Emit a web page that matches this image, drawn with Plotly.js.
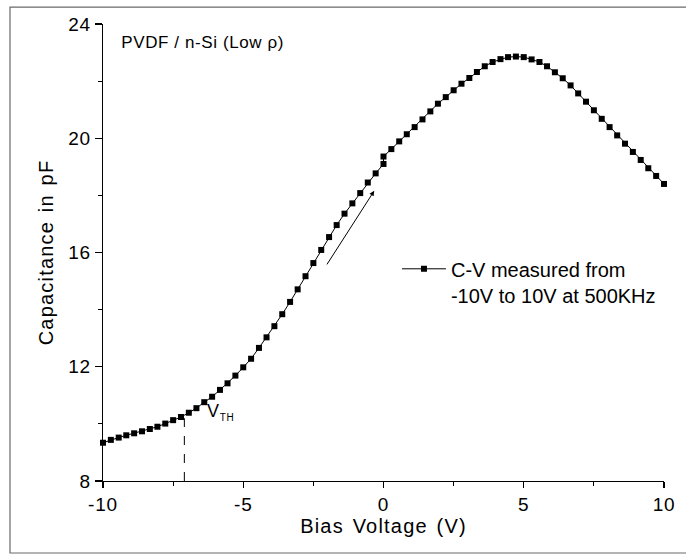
<!DOCTYPE html>
<html>
<head>
<meta charset="utf-8">
<script src="https://cdn.plot.ly/plotly-3.0.1.min.js"></script>
<style>
  html, body { margin: 0; padding: 0; background: #ffffff; }
  #chart { width: 686px; height: 556px; }
  #chart .xtitle, #chart .ytitle { letter-spacing: 1.2px; word-spacing: 2px; }
  #chart .xtick text, #chart .ytick text { letter-spacing: 0.8px; }
  #chart .annotation-text { letter-spacing: 0.6px; }
</style>
</head>
<body>
<div id="chart"></div>
<script>
// Bias voltage sweep (V): -10 V to 0 V, then 0 V to 10 V
const biasVoltage = [
  -10, -9.72, -9.44, -9.17, -8.89, -8.61, -8.33, -8.06, -7.78, -7.5,
  -7.22, -6.94, -6.67, -6.39, -6.11, -5.83, -5.56, -5.28, -5, -4.72,
  -4.44, -4.17, -3.89, -3.61, -3.33, -3.06, -2.78, -2.5, -2.22, -1.94,
  -1.67, -1.39, -1.11, -0.83, -0.56, -0.28, 0,
  0, 0.28, 0.56, 0.83, 1.11, 1.39, 1.67, 1.94, 2.22, 2.5,
  2.78, 3.06, 3.33, 3.61, 3.89, 4.17, 4.44, 4.72, 5, 5.28,
  5.56, 5.83, 6.11, 6.39, 6.67, 6.94, 7.22, 7.5, 7.78, 8.06,
  8.33, 8.61, 8.89, 9.17, 9.44, 9.72, 10
];
// Capacitance (pF)
const capacitance = [
  9.34, 9.44, 9.52, 9.60, 9.67, 9.74, 9.82, 9.90, 10.01, 10.13,
  10.24, 10.39, 10.55, 10.76, 10.95, 11.19, 11.42, 11.69, 11.98, 12.28,
  12.66, 13.03, 13.42, 13.84, 14.27, 14.71, 15.17, 15.63, 16.09, 16.54,
  16.96, 17.36, 17.72, 18.08, 18.45, 18.77, 19.10,
  19.36, 19.62, 19.89, 20.14, 20.39, 20.66, 20.94, 21.21, 21.44, 21.68,
  21.91, 22.11, 22.32, 22.52, 22.67, 22.77, 22.84, 22.86, 22.84, 22.76,
  22.67, 22.52, 22.31, 22.10, 21.85, 21.57, 21.28, 20.98, 20.68, 20.39,
  20.10, 19.81, 19.52, 19.24, 18.95, 18.68, 18.40
];
const seriesName = "C-V measured from<br>-10V to 10V at 500KHz";
const xTickValues = [-10, -5, 0, 5, 10];
const xTickLabels = ["-10", "-5", "0", "5", "10"];
const yTickValues = [8, 12, 16, 20, 24];
const yTickLabels = ["8", "12", "16", "20", "24"];
const sampleLabel = "PVDF / n-Si (Low ρ)";
const thresholdVoltage = -7.1;
const thresholdCapacitance = 10.2;

const FONT = "Liberation Sans, Arial, Helvetica, sans-serif";

const trace = {
  x: biasVoltage,
  y: capacitance,
  type: "scatter",
  mode: "lines+markers",
  name: seriesName,
  line: { color: "#000000", width: 1 },
  marker: { symbol: "square", size: 6, color: "#000000" },
  cliponaxis: false
};

const layout = {
  width: 686,
  height: 556,
  margin: { l: 103, r: 22, t: 24, b: 75 },
  paper_bgcolor: "#ffffff",
  plot_bgcolor: "#ffffff",
  font: { family: FONT, color: "#000000", size: 18 },
  showlegend: true,
  legend: {
    x: 0.524, xanchor: "left",
    y: 0.507, yanchor: "top",
    bgcolor: "rgba(0,0,0,0)",
    borderwidth: 0,
    valign: "top",
    itemwidth: 44,
    font: { family: FONT, size: 20, color: "#000000" }
  },
  xaxis: {
    range: [-10, 10],
    tickmode: "array",
    tickvals: xTickValues,
    ticktext: xTickLabels,
    ticks: "outside",
    ticklen: 6,
    tickwidth: 1.2,
    tickcolor: "#000000",
    minor: { dtick: 2.5, ticks: "outside", ticklen: 4, tickwidth: 1.2, tickcolor: "#000000", showgrid: false },
    showline: true,
    linecolor: "#000000",
    linewidth: 1.3,
    mirror: false,
    showgrid: false,
    zeroline: false,
    tickfont: { family: FONT, size: 19, color: "#000000" },
    title: { text: "Bias Voltage (V)", font: { family: FONT, size: 20, color: "#000000" }, standoff: 3 }
  },
  yaxis: {
    range: [8, 24],
    tickmode: "array",
    tickvals: yTickValues,
    ticktext: yTickLabels,
    ticks: "outside",
    ticklen: 7,
    tickwidth: 1.2,
    tickcolor: "#000000",
    minor: { dtick: 2, ticks: "outside", ticklen: 4, tickwidth: 1.2, tickcolor: "#000000", showgrid: false },
    showline: true,
    linecolor: "#000000",
    linewidth: 1.3,
    mirror: false,
    showgrid: false,
    zeroline: false,
    tickfont: { family: FONT, size: 19, color: "#000000" },
    title: { text: "Capacitance in pF", font: { family: FONT, size: 20, color: "#000000" }, standoff: 10 }
  },
  shapes: [
    {
      type: "rect", xref: "paper", yref: "paper",
      x0: -0.1658, x1: 1.06, y0: -0.1575, y1: 1.037,
      line: { color: "#6a6a6a", width: 1.2 },
      fillcolor: "rgba(0,0,0,0)"
    },
    {
      type: "line", xref: "x", yref: "y",
      x0: thresholdVoltage, x1: thresholdVoltage, y0: 8, y1: thresholdCapacitance,
      line: { color: "#000000", width: 1, dash: "dash" }
    }
  ],
  annotations: [
    {
      text: sampleLabel, xref: "x", yref: "y", x: -9.2, y: 23.35,
      xanchor: "left", yanchor: "middle", showarrow: false,
      font: { family: FONT, size: 17, color: "#000000" }
    },
    {
      text: "V<sub><span style=\"font-size:10px\">TH</span></sub>",
      xref: "x", yref: "y", x: -6.32, y: 10.4,
      xanchor: "left", yanchor: "middle", showarrow: false,
      font: { family: FONT, size: 18, color: "#000000" }
    },
    {
      text: "", xref: "x", yref: "y", x: -0.33, y: 18.16,
      axref: "x", ayref: "y", ax: -2.05, ay: 15.53,
      showarrow: true, arrowhead: 2, arrowsize: 1, arrowwidth: 1, arrowcolor: "#000000"
    }
  ]
};

Plotly.newPlot("chart", [trace], layout, { displayModeBar: false, staticPlot: true });
</script>
</body>
</html>
